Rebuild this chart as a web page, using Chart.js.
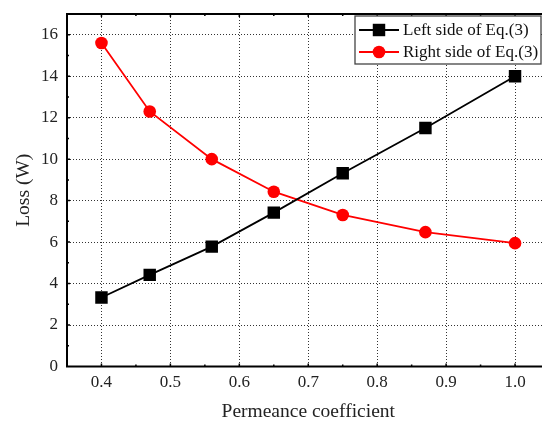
<!DOCTYPE html>
<html><head><meta charset="utf-8">
<script src="https://cdn.jsdelivr.net/npm/chart.js"></script>
<style>html,body{margin:0;padding:0;overflow:hidden;background:#fff;width:542px;height:422px}
#wrap{width:560px;height:422px;position:relative}</style></head>
<body><div id="wrap"><canvas id="c" width="560" height="422" style="width:560px;height:422px"></canvas></div>
<script>
const xValues = [0.4, 0.47, 0.56, 0.65, 0.75, 0.87, 1.0];
const leftSide = [3.33, 4.42, 5.78, 7.42, 9.32, 11.5, 14.0];
const rightSide = [15.6, 12.3, 10.0, 8.43, 7.31, 6.48, 5.95];
const xTicks = [0.4, 0.5, 0.6, 0.7, 0.8, 0.9, 1.0];
const yTicks = [0, 2, 4, 6, 8, 10, 12, 14, 16];
const seriesNames = ['Left side of Eq.(3)', 'Right side of Eq.(3)'];
const xTitle = 'Permeance coefficient';
const yTitle = 'Loss (W)';

const FONT = '"Liberation Serif", "Times New Roman", serif';

const framePlugin = {
  id: 'frame',
  afterDraw(chart) {
    const {ctx, chartArea: a, scales: {x, y}} = chart;
    ctx.save();
    ctx.strokeStyle = '#000';
    ctx.lineWidth = 2;
    ctx.strokeRect(a.left, a.top, a.right - a.left, a.bottom - a.top);
    ctx.lineWidth = 1.5;
    ctx.beginPath();
    const xt = [];
    for (let i = 0; i < xTicks.length; i++) {
      xt.push([xTicks[i], 3]);
      if (i < xTicks.length - 1) xt.push([(xTicks[i] + xTicks[i + 1]) / 2, 2]);
    }
    xt.push([(xTicks[0] - 0.05), 2]);
    xt.forEach(([v, len]) => {
      const px = x.getPixelForValue(v);
      if (px <= a.left || px >= a.right) return;
      ctx.moveTo(px, a.bottom); ctx.lineTo(px, a.bottom - len);
      ctx.moveTo(px, a.top); ctx.lineTo(px, a.top + len);
    });
    const yt = [];
    for (let i = 0; i < yTicks.length; i++) {
      yt.push([yTicks[i], 3]);
      yt.push([yTicks[i] + 1, 2]);
    }
    yt.forEach(([v, len]) => {
      const py = y.getPixelForValue(v);
      if (py <= a.top || py >= a.bottom) return;
      ctx.moveTo(a.left, py); ctx.lineTo(a.left + len, py);
      ctx.moveTo(a.right, py); ctx.lineTo(a.right - len, py);
    });
    ctx.stroke();

    const lx = 355, ly = 16, lw = 186, lh = 48;
    ctx.fillStyle = '#fff';
    ctx.fillRect(lx, ly, lw, lh);
    ctx.strokeStyle = '#444';
    ctx.lineWidth = 1.3;
    ctx.strokeRect(lx, ly, lw, lh);
    chart.data.datasets.forEach((ds, i) => {
      const cy = 30 + i * 22;
      ctx.strokeStyle = ds.borderColor;
      ctx.lineWidth = ds.borderWidth;
      ctx.beginPath();
      ctx.moveTo(359, cy); ctx.lineTo(399, cy);
      ctx.stroke();
      ctx.fillStyle = ds.backgroundColor;
      if (ds.pointStyle === 'rect') {
        const s = ds.pointRadius * Math.SQRT1_2;
        ctx.fillRect(379 - s, cy - s, 2 * s, 2 * s);
      } else {
        ctx.beginPath();
        ctx.arc(379, cy, ds.pointRadius, 0, Math.PI * 2);
        ctx.fill();
      }
      ctx.fillStyle = '#111';
      ctx.font = '17px ' + FONT;
      ctx.textBaseline = 'middle';
      ctx.textAlign = 'left';
      ctx.fillText(ds.label, 403, cy + 1);
    });
    ctx.restore();
  }
};

new Chart(document.getElementById('c'), {
  type: 'line',
  data: {
    datasets: [
      {
        label: seriesNames[0],
        data: xValues.map((v, i) => ({x: v, y: leftSide[i]})),
        borderColor: '#000', backgroundColor: '#000',
        borderWidth: 1.8, pointStyle: 'rect', pointRadius: 8.8,
        pointBorderWidth: 0, tension: 0
      },
      {
        label: seriesNames[1],
        data: xValues.map((v, i) => ({x: v, y: rightSide[i]})),
        borderColor: '#ff0000', backgroundColor: '#ff0000',
        borderWidth: 1.8, pointStyle: 'circle', pointRadius: 6.3,
        pointBorderWidth: 0, tension: 0
      }
    ]
  },
  options: {
    responsive: false,
    animation: false,
    devicePixelRatio: 1,
    layout: {padding: {left: 0, top: 14, right: 10.5, bottom: 0}},
    plugins: {legend: {display: false}, tooltip: {enabled: false}},
    scales: {
      x: {
        type: 'linear', min: 0.35, max: 1.05,
        afterBuildTicks: s => { s.ticks = xTicks.map(v => ({value: v})); },
        afterFit: s => { s.height = 55.5; s.paddingLeft = 0; s.paddingRight = 0; },
        ticks: {callback: v => Number(v).toFixed(1), font: {family: FONT, size: 17}, color: '#222', padding: 6, maxRotation: 0, autoSkip: false},
        grid: {color: '#333', lineWidth: 1, drawTicks: false},
        border: {display: false, dash: [1, 2]},
        title: {display: true, text: xTitle, font: {family: FONT, size: 19.5}, color: '#222', padding: {top: 0, bottom: -2}}
      },
      y: {
        type: 'linear', min: 0, max: 17,
        afterBuildTicks: s => { s.ticks = yTicks.map(v => ({value: v})); },
        afterFit: s => { s.width = 67; s.paddingTop = 0; s.paddingBottom = 0; },
        ticks: {callback: v => String(v), font: {family: FONT, size: 17}, color: '#222', padding: 9, autoSkip: false},
        grid: {color: '#333', lineWidth: 1, drawTicks: false},
        border: {display: false, dash: [1, 2]},
        title: {display: true, text: yTitle, font: {family: FONT, size: 19.5}, color: '#222', padding: {top: 12, bottom: 0}}
      }
    }
  },
  plugins: [framePlugin]
});
</script></body></html>
